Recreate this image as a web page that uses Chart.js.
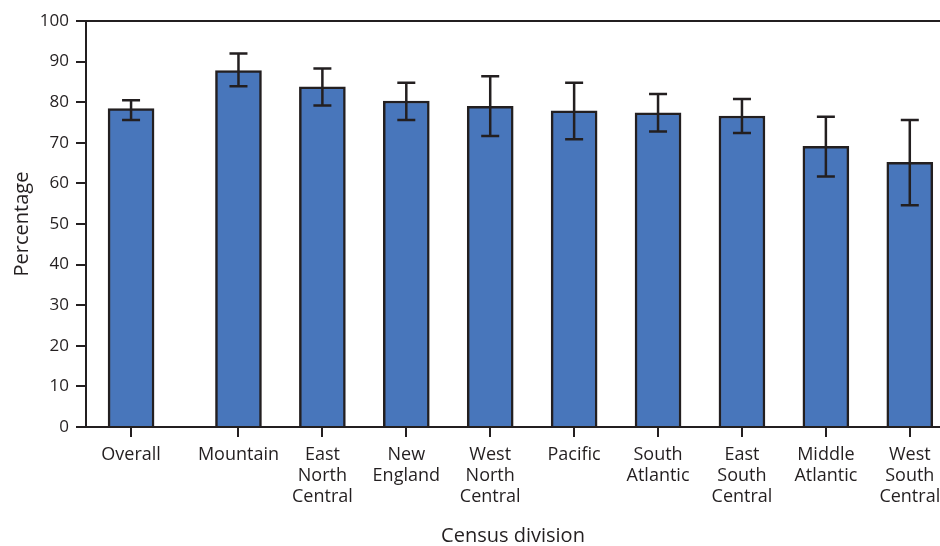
<!DOCTYPE html>
<html>
<head>
<meta charset="utf-8">
<script src="https://cdn.jsdelivr.net/npm/chart.js@4/dist/chart.umd.min.js"></script>
<style>
  body { margin: 0; background: #fff; }
  canvas { display: block; }
</style>
</head>
<body>
<canvas id="divisionChart" width="940" height="546"></canvas>
<script>
// census divisions, Overall is set a bit apart from the rest
const divisions = [
    ['Overall'], ['Mountain'], ['East', 'North', 'Central'], ['New', 'England'],
    ['West', 'North', 'Central'], ['Pacific'], ['South', 'Atlantic'],
    ['East', 'South', 'Central'], ['Middle', 'Atlantic'], ['West', 'South', 'Central']
];
const slots = [0, 1.28, 2.28, 3.28, 4.28, 5.28, 6.28, 7.28, 8.28, 9.28];
const percent = [78.4, 87.8, 83.8, 80.3, 79.0, 77.9, 77.4, 76.6, 69.1, 65.2];
const ciLow = [75.6, 83.9, 79.2, 75.6, 71.7, 70.9, 72.8, 72.4, 61.7, 54.6];
const ciHigh = [80.5, 92.0, 88.3, 84.8, 86.4, 84.8, 82.0, 80.8, 76.4, 75.6];
const yTicks = [0, 10, 20, 30, 40, 50, 60, 70, 80, 90, 100];

const ink = '#231f20';
const fontName = '"Open Sans", sans-serif';

const errorBars = {
    id: 'errorBars',
    afterDatasetsDraw(chart) {
        let ctx = chart.ctx;
        let xs = chart.scales.x, ys = chart.scales.y;
        ctx.save();
        ctx.strokeStyle = ink;
        ctx.lineWidth = 2.5;
        for (let i = 0; i < slots.length; i++) {
            let x = xs.getPixelForValue(slots[i]);
            let lo = ys.getPixelForValue(ciLow[i]);
            let hi = ys.getPixelForValue(ciHigh[i]);
            ctx.beginPath();
            ctx.moveTo(x, lo); ctx.lineTo(x, hi);
            ctx.moveTo(x - 9, lo); ctx.lineTo(x + 9, lo);
            ctx.moveTo(x - 9, hi); ctx.lineTo(x + 9, hi);
            ctx.stroke();
        }
        // frame line along the top
        let a = chart.chartArea;
        ctx.lineWidth = 2;
        ctx.beginPath();
        ctx.moveTo(a.left - 1, a.top);
        ctx.lineTo(a.right, a.top);
        ctx.stroke();
        ctx.restore();
    }
};

let ctxB = document.getElementById('divisionChart').getContext('2d');
new Chart(ctxB, {
    type: 'bar',
    data: {
        datasets: [{
            data: slots.map((s, i) => ({x: s, y: percent[i]})),
            backgroundColor: '#4876bb',
            borderColor: ink,
            borderWidth: 2.5,
            barThickness: 46
        }]
    },
    options: {
        responsive: false,
        animation: false,
        layout: { padding: { top: 21, right: 0, left: 0, bottom: 0 } },
        plugins: { legend: { display: false }, tooltip: { enabled: false } },
        scales: {
            x: {
                type: 'linear',
                offset: false,
                min: -0.537,
                max: 9.64,
                afterBuildTicks: s => { s.ticks = slots.map(v => ({value: v})); },
                afterFit: s => { s.height = 119; s.paddingLeft = 0; s.paddingRight = 0; },
                ticks: {
                    autoSkip: false,
                    maxRotation: 0,
                    padding: 7,
                    color: ink,
                    font: { family: fontName, size: 18, lineHeight: 1.17 },
                    callback: (v, i) => divisions[i]
                },
                grid: { offset: false, drawOnChartArea: false, tickLength: 10, color: ink, lineWidth: 2 },
                border: { color: ink, width: 2 },
                title: {
                    display: true,
                    text: 'Census division',
                    color: ink,
                    padding: 0,
                    font: { family: fontName, size: 20, lineHeight: 1 }
                }
            },
            y: {
                min: 0,
                max: 100,
                afterBuildTicks: s => { s.ticks = yTicks.map(v => ({value: v})); },
                afterFit: s => { s.width = 86; },
                ticks: {
                    padding: 7,
                    color: ink,
                    font: { family: fontName, size: 17 }
                },
                grid: { drawOnChartArea: false, tickLength: 10, color: ink, lineWidth: 2 },
                border: { color: ink, width: 2 },
                title: {
                    display: true,
                    text: 'Percentage',
                    color: ink,
                    padding: { top: 12, bottom: 0 },
                    font: { family: fontName, size: 20, lineHeight: 1 }
                }
            }
        }
    },
    plugins: [errorBars]
});
</script>
</body>
</html>
